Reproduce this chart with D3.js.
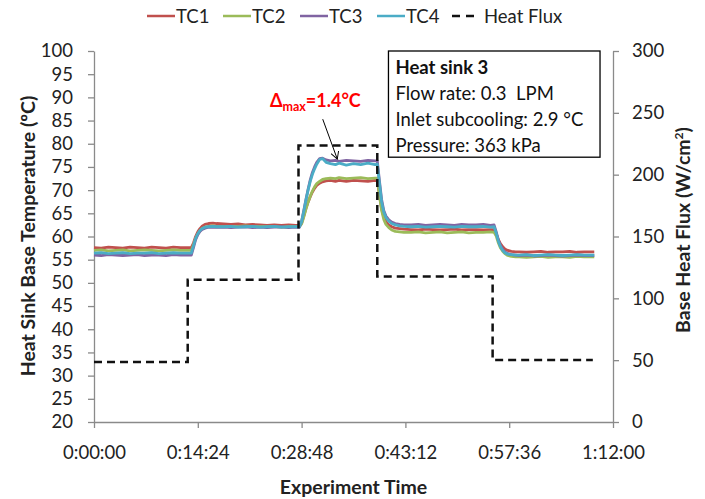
<!DOCTYPE html>
<html><head><meta charset="utf-8">
<script src="https://cdn.jsdelivr.net/npm/d3@7"></script>
<style>
body{margin:0;background:#fff}
svg{display:block}
text{font-family:Lato,'Open Sans',sans-serif}
</style>
</head><body>
<svg id="c" width="705" height="499"></svg>
<script>
// ---------------- data ----------------
const seriesNames = ["TC1","TC2","TC3","TC4"];
const seriesColors = ["#C0504D","#9BBB59","#8064A2","#4BACC6"];
const timeMin = [
0,1,2,3,4,5,6,7,8,9,10,11,12,13,13.5,
13.8,14.1,14.4,14.7,15.0,15.4,15.9,16.5,17,
18,19,20,21,22,23,24,25,26,27,28,28.5,
28.8,29.1,29.4,29.7,30.0,30.3,30.6,30.9,31.3,31.7,32.2,32.8,33.5,
34,35,36,37,38,39,39.3,
39.6,39.9,40.2,40.5,40.9,41.3,41.8,42.4,43,
44,45,46,47,48,49,50,51,52,53,54,55,55.5,
55.8,56.1,56.4,56.7,57.0,57.4,57.9,58.5,
59,60,61,62,63,64,65,66,67,68,69,69.4];
const tc1 = [
57.6,57.5,57.7,57.6,57.5,57.7,57.6,57.5,57.7,57.6,57.5,57.7,57.6,57.6,57.6,
58.6,60.0,61.0,61.7,62.2,62.6,62.8,62.9,62.8,
62.7,62.6,62.7,62.5,62.6,62.5,62.4,62.5,62.4,62.5,62.4,62.4,
62.9,64.4,66.0,67.4,68.6,69.6,70.4,71.0,71.5,71.8,72.0,72.1,71.9,
72.1,71.9,72.1,72.0,71.9,72.1,72.0,
69.0,66.0,64.2,63.2,62.5,62.1,61.8,61.7,61.6,
61.5,61.4,61.6,61.5,61.4,61.5,61.6,61.4,61.5,61.5,61.4,61.5,61.5,
60.6,59.3,58.4,57.8,57.3,57.0,56.8,56.7,
56.7,56.6,56.7,56.8,56.6,56.7,56.7,56.8,56.6,56.7,56.7,56.7];
const tc2 = [
57.0,57.1,56.9,57.0,57.1,56.9,57.0,57.1,57.0,56.9,57.0,57.1,57.0,57.0,57.0,
58.2,59.6,60.6,61.3,61.7,62.0,62.2,62.3,62.2,
62.2,62.1,62.2,62.3,62.1,62.2,62.1,62.2,62.0,62.1,62.2,62.1,
62.7,64.2,65.9,67.4,68.7,69.8,70.7,71.4,71.9,72.3,72.5,72.6,72.5,
72.7,72.5,72.6,72.7,72.5,72.6,72.6,
68.8,65.6,63.7,62.6,61.9,61.4,61.1,61.0,60.9,
60.9,61.0,60.8,60.9,61.0,60.8,60.9,61.0,60.8,60.9,60.9,61.0,60.9,
60.1,58.6,57.5,56.8,56.3,55.9,55.7,55.6,
55.6,55.5,55.6,55.7,55.5,55.6,55.6,55.5,55.7,55.6,55.6,55.6];
const tc3 = [
56.0,55.9,56.1,56.0,55.9,56.0,56.1,55.9,56.0,56.0,55.9,56.1,56.0,56.0,56.0,
57.6,59.3,60.4,61.1,61.5,61.8,62.0,62.0,62.0,
62.0,61.9,62.0,62.1,61.9,62.0,61.9,62.0,62.1,61.9,62.0,62.0,
63.3,65.6,68.0,70.2,72.2,73.8,75.0,76.0,76.8,76.9,76.5,76.3,76.4,
76.2,76.4,76.3,76.2,76.4,76.3,76.3,
72.0,68.0,65.6,64.4,63.6,63.1,62.8,62.6,62.5,
62.5,62.6,62.4,62.5,62.6,62.5,62.4,62.6,62.5,62.5,62.6,62.4,62.5,
61.0,59.2,58.0,57.2,56.7,56.3,56.1,56.0,
55.9,56.0,55.8,55.9,56.0,55.9,55.8,55.9,56.0,55.9,55.9,55.9];
const tc4 = [
56.4,56.5,56.3,56.4,56.5,56.3,56.4,56.4,56.5,56.3,56.4,56.5,56.4,56.4,56.4,
58.0,59.6,60.6,61.3,61.7,62.0,62.1,62.2,62.1,
62.1,62.2,62.0,62.1,62.2,62.0,62.1,62.2,62.0,62.1,62.1,62.1,
63.2,65.4,67.8,70.0,71.9,73.4,74.6,75.6,76.6,76.8,76.0,75.7,75.5,
75.8,75.4,75.7,75.5,75.8,75.5,75.6,
71.5,67.5,65.3,64.1,63.3,62.8,62.5,62.3,62.2,
62.1,62.2,62.0,62.1,62.2,62.1,62.0,62.2,62.1,62.1,62.2,62.0,62.1,
60.7,59.0,57.8,57.0,56.5,56.2,56.1,56.0,
56.0,56.1,55.9,56.0,56.1,56.0,55.9,56.0,56.1,56.0,56.0,56.0];
const fluxTime = [0,13.0,28.37,39.3,55.3,69.2];
const fluxValue = [48.5,115.1,223.5,117.7,50.1,50.1];
const xTickValues = [0,14.4,28.8,43.2,57.6,72];
const xTickLabels = ["0:00:00","0:14:24","0:28:48","0:43:12","0:57:36","1:12:00"];
const yTickValues = [20,25,30,35,40,45,50,55,60,65,70,75,80,85,90,95,100];
const y2TickValues = [0,50,100,150,200,250,300];
const infoLines = ["Heat sink 3","Flow rate: 0.3  LPM","Inlet subcooling: 2.9 °C","Pressure: 363 kPa"];

// ---------------- chart ----------------
const svg = d3.select("#c");
const x = d3.scaleLinear().domain([0,72]).range([94,613]);
const y = d3.scaleLinear().domain([20,100]).range([422,51]);
const y2 = d3.scaleLinear().domain([0,300]).range([422,51]);
const axisColor = "#8a8a8a", textColor = "#222";
const fs = 18.5, tfs = 19.5;

function styleAxis(g){
  g.select(".domain").attr("stroke",axisColor).attr("stroke-width",1.3);
  g.selectAll(".tick line").attr("stroke",axisColor).attr("stroke-width",1.3);
  g.selectAll(".tick text").attr("fill",textColor).style("font-size",fs+"px").attr("font-family","Lato");
}
svg.append("g").attr("transform","translate(0,422)")
  .call(d3.axisBottom(x).tickValues(xTickValues).tickFormat((d,i)=>xTickLabels[i]).tickSize(6).tickSizeOuter(0).tickPadding(18))
  .call(styleAxis);
svg.append("g").attr("transform","translate(94,0)")
  .call(d3.axisLeft(y).tickValues(yTickValues).tickSize(6).tickSizeOuter(0).tickPadding(15))
  .call(styleAxis);
svg.append("g").attr("transform","translate(613,0)")
  .call(d3.axisRight(y2).tickValues(y2TickValues).tickSize(6).tickSizeOuter(0).tickPadding(13))
  .call(styleAxis);

// axis titles
svg.append("text").attr("x",353.5).attr("y",494).attr("text-anchor","middle")
  .attr("font-weight","bold").style("font-size",tfs+"px").attr("fill",textColor).text("Experiment Time");
svg.append("text").attr("transform","translate(35,236) rotate(-90)").attr("text-anchor","middle")
  .attr("font-weight","bold").style("font-size",tfs+"px").attr("fill",textColor).text("Heat Sink Base Temperature (ºC)");
const rt = svg.append("text").attr("transform","translate(690,230) rotate(-90)").attr("text-anchor","middle")
  .attr("font-weight","bold").style("font-size",tfs+"px").attr("fill",textColor);
rt.append("tspan").text("Base Heat Flux (W/cm");
rt.append("tspan").attr("dy",-7).style("font-size","12px").text("2");
rt.append("tspan").attr("dy",7).text(")");

// temperature lines
const seriesData = [tc1,tc2,tc3,tc4];
const line = d3.line().x((d,i)=>x(timeMin[i])).y(d=>y(d));
seriesData.forEach((s,k)=>{
  svg.append("path").datum(s).attr("d",line).attr("fill","none")
    .attr("stroke",seriesColors[k]).attr("stroke-width",2.8).attr("stroke-linejoin","round");
});

// heat flux
const fline = d3.line().x((d,i)=>x(fluxTime[i])).y(d=>y2(d)).curve(d3.curveStepAfter);
svg.append("path").datum(fluxValue).attr("d",fline).attr("fill","none")
  .attr("stroke","#111").attr("stroke-width",2.5).attr("stroke-dasharray","8,5");

// legend
const legX = [147,223,300,377];
seriesNames.forEach((n,k)=>{
  svg.append("line").attr("x1",legX[k]).attr("x2",legX[k]+28).attr("y1",16).attr("y2",16)
    .attr("stroke",seriesColors[k]).attr("stroke-width",2.5);
  svg.append("text").attr("x",legX[k]+29).attr("y",22.5).style("font-size",fs+"px").attr("fill",textColor).text(n);
});
svg.append("line").attr("x1",452).attr("x2",476).attr("y1",16).attr("y2",16)
  .attr("stroke","#111").attr("stroke-width",2.5).attr("stroke-dasharray","8,6");
svg.append("text").attr("x",484).attr("y",22.5).style("font-size",fs+"px").attr("fill",textColor).text("Heat Flux");

// info box (in data coordinates)
const bx0 = x(40.85), bx1 = x(70.2), by0 = y(100), by1 = y(77.1);
svg.append("rect").attr("x",bx0).attr("y",by0).attr("width",bx1-bx0).attr("height",by1-by0)
  .attr("fill","#fff").attr("stroke","#000").attr("stroke-width",1.3);
infoLines.forEach((t,i)=>{
  svg.append("text").attr("x",bx0+7).attr("y",by0+22.5+i*26).style("font-size",fs+"px")
    .style("white-space","pre").attr("font-weight",i===0?"bold":"normal").attr("fill","#111").text(t);
});

// delta annotation
const dt = svg.append("text").attr("x",x(24.4)).attr("y",y(88)).attr("fill","#ff0000")
  .attr("font-weight","bold").style("font-size","18px");
dt.append("tspan").text("Δ");
dt.append("tspan").attr("dy",4).style("font-size","12.5px").text("max");
dt.append("tspan").attr("dy",-4).text("=1.4°C");
svg.append("defs").append("marker").attr("id","ah").attr("viewBox","0 0 10 10").attr("refX",9).attr("refY",5)
  .attr("markerWidth",8).attr("markerHeight",8).attr("orient","auto")
  .append("path").attr("d","M0,0 L9,5 L0,10").attr("fill","none").attr("stroke","#000").attr("stroke-width",1.2);
svg.append("line").attr("x1",x(31.73)).attr("y1",y(85.3)).attr("x2",x(33.75)).attr("y2",y(76.7))
  .attr("stroke","#000").attr("stroke-width",1).attr("marker-end","url(#ah)");
</script>
</body></html>
